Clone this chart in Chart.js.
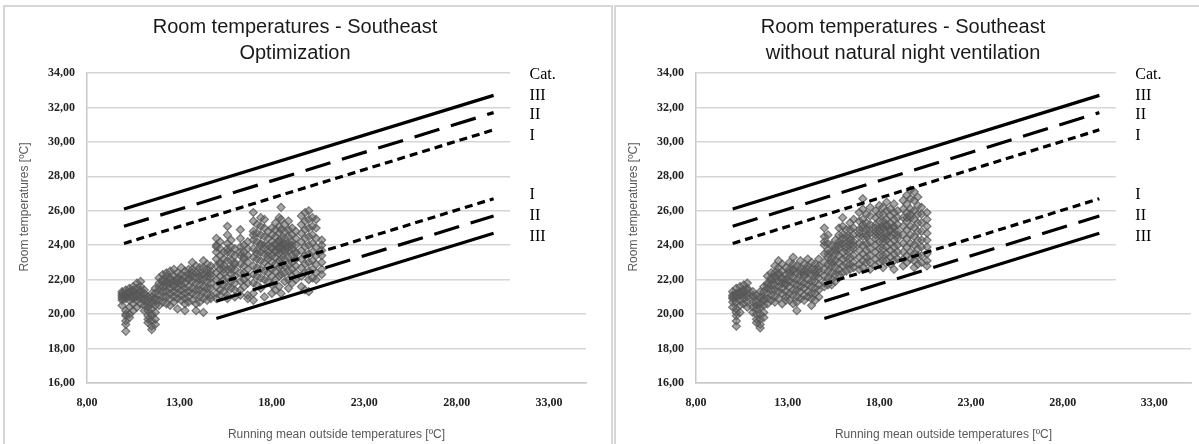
<!DOCTYPE html>
<html>
<head>
<meta charset="utf-8">
<script src="https://cdn.jsdelivr.net/npm/chart.js@4/dist/chart.umd.min.js"></script>
<style>
  html, body { margin: 0; padding: 0; background: #fff; overflow: hidden; width: 1199px; height: 444px; }
  canvas { position: absolute; top: 6px; }
  .frame { position: absolute; top: 5px; height: 470px; border: 2px solid #d6d6d6; box-sizing: border-box; pointer-events: none; }
</style>
</head>
<body>
<div class="frame" style="left:3px;width:610px"></div>
<div class="frame" style="left:614px;width:601px"></div>
<canvas id="chartOpt" width="607" height="438" style="left:4px"></canvas>
<canvas id="chartNoVent" width="598" height="438" style="left:615px"></canvas>
<script>
// axis ticks
const xTicks = [8, 13, 18, 23, 28, 33];
const yTicks = [16, 18, 20, 22, 24, 26, 28, 30, 32, 34];

// category limit lines (EN 15251), two end points each
const upperX = [10, 30];
const lowerX = [15, 30];
const catIIIUpper = [26.1, 32.7];
const catIIUpper = [25.1, 31.7];
const catIUpper = [24.1, 30.7];
const catILower = [21.75, 26.7];
const catIILower = [20.75, 25.7];
const catIIILower = [19.75, 24.7];

// labels right of the plot
const catLabels = ["Cat.", "III", "II", "I", "I", "II", "III"];
const catLabelY = [33.9, 32.7, 31.55, 30.35, 26.9, 25.7, 24.5];

// room temps - optimization (x = running mean, one column per day)
const optDays = [9.9, 10.1, 10.3, 10.5, 10.7, 10.9, 11.1, 11.3, 11.5, 11.7, 11.9, 12.1,
  12.3, 12.5, 12.7, 12.9, 13.1, 13.3, 13.5, 13.7, 13.9, 14.1, 14.3, 14.5, 14.7,
  15.0, 15.2, 15.4, 15.6, 15.8, 16.0, 16.3, 16.5, 16.7, 17.0, 17.2, 17.4, 17.6, 17.8,
  18.0, 18.2, 18.4, 18.5, 18.7, 18.9, 19.1, 19.3, 19.6, 19.8, 20.0, 20.2, 20.4, 20.7];
const optTemps = [
  [21.2, 21.0, 20.8, 21.1, 20.9, 21.3, 20.5],
  [21.4, 21.1, 20.9, 21.0, 20.2, 19.9, 19.6, 19.4, 19.0, 20.0, 21.2],
  [21.5, 21.2, 21.0, 20.8, 20.4, 20.0, 19.8, 21.3],
  [21.6, 21.3, 21.1, 20.9, 21.0, 20.6, 20.2, 21.4],
  [21.8, 21.5, 21.2, 21.0, 20.8, 21.1, 20.4],
  [21.9, 21.6, 21.3, 21.1, 20.9, 20.6, 21.4],
  [21.4, 21.1, 20.8, 20.5, 20.2, 20.9, 21.2],
  [21.0, 20.6, 20.2, 19.9, 19.7, 19.5, 20.4, 20.8],
  [21.2, 20.8, 20.3, 19.9, 19.6, 19.3, 19.1, 20.0, 20.6, 21.0],
  [21.5, 21.2, 20.9, 20.5, 20.1, 19.7, 19.4, 20.8],
  [22.1, 21.8, 21.4, 21.1, 20.8, 20.5, 21.6],
  [22.3, 21.9, 21.6, 21.3, 21.0, 20.7, 22.0],
  [22.2, 21.9, 21.6, 21.3, 21.0, 20.6, 21.8, 22.4],
  [22.5, 22.1, 21.8, 21.5, 21.2, 20.9, 20.5, 22.0],
  [22.6, 22.2, 21.9, 21.6, 21.3, 21.0, 20.7, 21.7],
  [22.4, 22.1, 21.8, 21.5, 21.2, 20.9, 20.3, 22.0],
  [22.7, 22.3, 22.0, 21.7, 21.4, 21.1, 20.8, 21.9],
  [22.5, 22.2, 21.8, 21.5, 21.2, 20.9, 20.6, 20.2],
  [22.6, 22.3, 22.0, 21.6, 21.3, 21.0, 20.7, 22.1],
  [23.0, 22.6, 22.2, 21.9, 21.5, 21.2, 20.8, 22.4],
  [22.8, 22.4, 22.1, 21.8, 21.4, 21.1, 20.6, 20.2],
  [22.7, 22.4, 22.0, 21.7, 21.4, 21.0, 20.7, 22.2],
  [23.1, 22.7, 22.3, 22.0, 21.6, 21.3, 20.9, 20.1],
  [22.9, 22.6, 22.2, 21.9, 21.5, 21.2, 20.8, 22.4],
  [22.8, 22.5, 22.1, 21.8, 21.5, 21.1, 20.9, 22.3],
  [24.4, 24.0, 23.6, 23.2, 22.8, 22.4, 22.0, 21.6, 21.2, 20.9, 23.9],
  [24.2, 23.8, 23.4, 23.0, 22.6, 22.2, 21.8, 21.4, 21.1, 22.9],
  [23.6, 23.2, 22.8, 22.4, 22.0, 21.7, 21.3, 22.6],
  [25.1, 24.6, 24.1, 23.6, 23.1, 22.6, 22.1, 21.6, 21.1, 20.9, 23.8],
  [24.3, 23.9, 23.5, 23.1, 22.7, 22.3, 21.9, 21.5, 22.6],
  [23.8, 23.4, 23.0, 22.6, 22.2, 21.8, 21.4, 21.0, 22.9],
  [24.9, 24.4, 23.9, 23.4, 22.9, 22.4, 21.9, 21.4, 21.1, 23.6],
  [24.0, 23.6, 23.2, 22.8, 22.4, 22.0, 21.6, 23.3],
  [24.2, 23.8, 23.4, 23.0, 22.6, 22.2, 21.8, 21.1, 20.9],
  [25.9, 25.4, 24.8, 24.3, 23.8, 23.3, 22.8, 22.3, 21.8, 21.2, 20.8, 24.6],
  [25.2, 24.7, 24.2, 23.7, 23.2, 22.7, 22.2, 21.7, 23.5],
  [25.6, 25.1, 24.6, 24.1, 23.6, 23.1, 22.6, 22.1, 21.5, 24.0],
  [25.5, 25.0, 24.5, 24.0, 23.5, 23.0, 22.5, 22.0, 21.0, 23.8],
  [24.8, 24.4, 24.0, 23.6, 23.2, 22.8, 22.4, 21.9, 23.4],
  [25.0, 24.6, 24.2, 23.8, 23.4, 23.0, 22.6, 22.2, 21.7, 21.2, 23.9],
  [25.3, 24.9, 24.5, 24.1, 23.7, 23.3, 22.9, 22.5, 22.0, 21.4, 24.0, 23.6],
  [25.6, 25.1, 24.7, 24.3, 23.9, 23.5, 23.1, 22.7, 22.2, 21.6, 24.2, 23.8],
  [26.2, 25.5, 24.9, 24.4, 24.0, 23.6, 23.2, 22.8, 22.3, 21.2, 23.9],
  [25.2, 24.8, 24.4, 24.0, 23.6, 23.2, 22.8, 22.4, 21.9, 24.1, 23.7],
  [25.4, 24.9, 24.5, 24.1, 23.7, 23.3, 22.9, 22.5, 22.0, 21.5, 23.9],
  [25.0, 24.6, 24.2, 23.8, 23.4, 23.0, 22.6, 22.2, 21.8, 24.0],
  [24.8, 24.4, 24.0, 23.6, 23.2, 22.8, 22.4, 22.0, 23.5],
  [25.7, 25.2, 24.7, 24.2, 23.7, 23.2, 22.7, 22.2, 21.6],
  [25.9, 25.4, 24.9, 24.4, 23.9, 23.4, 22.9, 22.4, 21.4],
  [26.0, 25.5, 25.0, 24.5, 24.0, 23.5, 23.0, 22.5, 22.0, 21.3],
  [25.6, 25.1, 24.6, 24.1, 23.6, 23.1, 22.6, 22.1],
  [25.5, 25.0, 24.4, 23.9, 23.4, 22.9, 22.4, 22.0],
  [24.3, 24.0, 23.7, 23.4, 23.0, 22.6, 22.3]
];

// room temps - without natural night ventilation
const noVentDays = [10.0, 10.2, 10.4, 10.6, 10.8, 11.1, 11.3, 11.5, 11.7, 11.9,
  12.1, 12.3, 12.5, 12.7, 12.9, 13.1, 13.3, 13.5, 13.7, 13.9, 14.1, 14.3, 14.5, 14.7,
  15.0, 15.2, 15.4, 15.6, 15.8, 16.0, 16.2, 16.4, 16.6, 16.9, 17.1, 17.3, 17.5,
  17.8, 18.0, 18.2, 18.4, 18.6, 18.8, 19.0, 19.3, 19.5, 19.7, 19.9, 20.1, 20.3, 20.6];
const noVentTemps = [
  [21.3, 21.1, 20.9, 21.0, 20.7, 20.4],
  [21.5, 21.2, 21.0, 20.7, 20.3, 19.9, 19.6, 19.3, 20.1, 21.1],
  [21.6, 21.3, 21.1, 20.8, 20.5, 20.1, 21.2],
  [21.7, 21.4, 21.1, 20.9, 20.6, 21.3],
  [21.8, 21.5, 21.2, 21.0, 20.7, 20.4, 21.4],
  [21.3, 21.0, 20.7, 20.4, 20.1, 21.1],
  [21.1, 20.7, 20.3, 20.0, 19.7, 19.5, 20.5],
  [21.3, 20.9, 20.4, 20.0, 19.7, 19.4, 19.2, 20.6, 21.0],
  [21.6, 21.3, 20.9, 20.5, 20.1, 19.8, 20.8],
  [22.2, 21.8, 21.5, 21.2, 20.9, 20.6, 21.7],
  [22.4, 22.0, 21.7, 21.4, 21.1, 20.8, 22.1],
  [22.8, 22.4, 22.0, 21.7, 21.4, 21.0, 20.7, 22.2],
  [23.1, 22.7, 22.3, 21.9, 21.6, 21.3, 20.9, 22.4],
  [22.9, 22.5, 22.1, 21.8, 21.5, 21.2, 20.6, 22.0],
  [22.7, 22.3, 22.0, 21.7, 21.3, 21.0, 20.8, 21.8],
  [23.0, 22.6, 22.2, 21.9, 21.6, 21.2, 20.8, 22.4],
  [23.3, 22.9, 22.5, 22.1, 21.8, 21.4, 21.1, 20.6, 22.6],
  [22.8, 22.4, 22.0, 21.7, 21.4, 21.0, 20.7, 20.2],
  [23.1, 22.7, 22.3, 21.9, 21.6, 21.3, 20.9, 22.5],
  [22.9, 22.5, 22.2, 21.8, 21.5, 21.1, 20.8, 22.3],
  [23.2, 22.8, 22.4, 22.0, 21.7, 21.3, 21.0, 22.6],
  [23.0, 22.6, 22.3, 21.9, 21.6, 21.2, 20.9, 20.5],
  [22.9, 22.6, 22.2, 21.9, 21.5, 21.2, 20.8, 22.4],
  [23.2, 22.8, 22.4, 22.1, 21.7, 21.4, 21.0, 22.6],
  [25.0, 24.5, 24.0, 23.5, 23.0, 22.6, 22.2, 21.8, 21.6, 24.2],
  [24.6, 24.1, 23.7, 23.3, 22.9, 22.5, 22.1, 21.7, 23.5],
  [24.0, 23.6, 23.2, 22.8, 22.4, 22.0, 21.7, 23.0],
  [24.3, 23.9, 23.5, 23.1, 22.7, 22.3, 21.9, 23.7],
  [25.0, 24.6, 24.2, 23.8, 23.4, 23.0, 22.6, 22.3, 24.0],
  [25.6, 25.1, 24.6, 24.1, 23.6, 23.2, 22.8, 22.4, 24.4],
  [24.9, 24.5, 24.1, 23.7, 23.3, 22.9, 22.5, 23.9],
  [25.3, 24.9, 24.5, 24.1, 23.7, 23.3, 22.9, 22.6, 24.3],
  [25.5, 25.0, 24.6, 24.2, 23.8, 23.4, 23.0, 22.7, 24.0],
  [25.9, 25.4, 24.9, 24.5, 24.1, 23.7, 23.3, 22.9, 22.6, 24.7],
  [26.7, 26.1, 25.5, 25.0, 24.5, 24.0, 23.5, 23.1, 22.7, 25.2],
  [25.8, 25.3, 24.9, 24.5, 24.1, 23.7, 23.3, 23.0, 24.6],
  [26.2, 25.7, 25.2, 24.7, 24.2, 23.8, 23.4, 23.0, 22.6, 24.9],
  [26.0, 25.6, 25.2, 24.8, 24.4, 24.0, 23.6, 23.2, 22.8, 25.0, 24.6],
  [26.3, 25.8, 25.4, 25.0, 24.6, 24.2, 23.8, 23.4, 23.0, 24.8],
  [26.2, 25.8, 25.4, 25.0, 24.6, 24.2, 23.8, 23.4, 23.1, 22.7, 25.1, 24.4],
  [26.5, 26.0, 25.5, 25.1, 24.7, 24.3, 23.9, 23.5, 23.1, 25.2, 24.5],
  [26.1, 25.7, 25.3, 24.9, 24.5, 24.1, 23.7, 23.3, 22.9, 24.8],
  [26.4, 25.9, 25.5, 25.1, 24.7, 24.3, 23.9, 23.5, 23.1, 22.6, 25.0],
  [26.0, 25.6, 25.2, 24.8, 24.4, 24.0, 23.6, 23.2, 24.6],
  [26.6, 26.1, 25.6, 25.1, 24.6, 24.1, 23.6, 23.2, 22.8],
  [26.9, 26.4, 25.9, 25.4, 24.9, 24.4, 23.9, 23.4, 23.0, 25.6],
  [27.2, 26.7, 26.1, 25.6, 25.1, 24.6, 24.1, 23.6, 23.2, 25.8],
  [27.1, 26.6, 26.0, 25.5, 25.0, 24.5, 24.0, 23.5, 23.1, 22.7],
  [26.8, 26.3, 25.8, 25.3, 24.8, 24.3, 23.8, 23.4, 22.9],
  [26.2, 25.8, 25.3, 24.8, 24.3, 23.9, 23.4, 23.0],
  [25.9, 25.5, 25.1, 24.7, 24.3, 23.9, 23.5, 23.1, 22.8]
];

function start() {
  designChart("chartOpt", ["Room temperatures - Southeast", "Optimization"], optDays, optTemps, 83, 25);
  designChart("chartNoVent", ["Room temperatures - Southeast", "without natural night ventilation"], noVentDays, noVentTemps, 81, 22);
}

function commaFmt(v) {
  return Number(v).toFixed(2).replace(".", ",");
}

function toPoints(xs, ys) {
  return xs.map((x, i) => ({ x: x, y: ys[i] }));
}

function limitLine(xs, ys, dash) {
  return {
    type: "line",
    data: toPoints(xs, ys),
    borderColor: "#000",
    borderWidth: 3.2,
    borderDash: dash,
    borderCapStyle: "butt",
    pointRadius: 0,
    fill: false,
    order: 1,
  };
}

// white box behind the category labels (hides the grid there)
const labelBox = {
  id: "labelBox",
  beforeDatasetsDraw(chart) {
    const { ctx, chartArea, scales } = chart;
    const x0 = scales.x.getPixelForValue(30.9);
    const y1 = scales.y.getPixelForValue(21);
    ctx.save();
    ctx.fillStyle = "#fff";
    ctx.fillRect(x0, chartArea.top - 3, chartArea.right - x0 + 8, y1 - chartArea.top + 3);
    ctx.restore();
  },
  afterDraw(chart) {
    const { ctx, chartArea, scales } = chart;
    ctx.save();
    // category text
    ctx.font = "16px 'Liberation Serif'";
    ctx.fillStyle = "#000";
    ctx.textAlign = "left";
    ctx.textBaseline = "middle";
    const lx = scales.x.getPixelForValue(30) + 36;
    catLabels.forEach((t, i) => {
      ctx.fillText(t, lx, scales.y.getPixelForValue(catLabelY[i]));
    });
    // y axis title
    ctx.translate(chartArea.left - 62, chartArea.top + 134);
    ctx.rotate(-Math.PI / 2);
    ctx.font = "12px 'Liberation Sans'";
    ctx.fillStyle = "#595959";
    ctx.textAlign = "center";
    ctx.fillText("Room temperatures [ºC]", 0, 0);
    ctx.restore();
  },
};

function designChart(id, title, days, temps, axisWidth, padRight) {
  const pts = [];
  days.forEach((d, i) => {
    temps[i].forEach((t) => pts.push({ x: d, y: t }));
  });
  const ctx = document.getElementById(id).getContext("2d");
  new Chart(ctx, {
    type: "scatter",
    data: {
      datasets: [
        limitLine(upperX, catIIIUpper, []),
        limitLine(upperX, catIIUpper, [26, 12]),
        limitLine(upperX, catIUpper, [8, 5]),
        limitLine(lowerX, catILower, [8, 5]),
        limitLine(lowerX, catIILower, [26, 12]),
        limitLine(lowerX, catIIILower, []),
        {
          label: "Room temperatures",
          data: pts,
          pointStyle: "rectRot",
          pointRadius: 4,
          borderWidth: 1.2,
          borderColor: "rgba(85,85,85,0.75)",
          backgroundColor: "rgba(95,95,95,0.55)",
          order: 2,
        },
      ],
    },
    options: {
      responsive: false,
      animation: false,
      devicePixelRatio: 1,
      layout: { padding: { left: 0, right: padRight, top: 0, bottom: 0 } },
      scales: {
        x: {
          type: "linear",
          min: 8,
          max: 35,
          afterBuildTicks: (s) => { s.ticks = xTicks.map((v) => ({ value: v })); },
          afterFit: (s) => { s.height = 61; },
          grid: { display: false, drawTicks: false },
          border: { display: true, color: "#c8c8c8", width: 1.5 },
          ticks: {
            callback: commaFmt,
            padding: 13,
            color: "#222",
            font: { family: "'Liberation Serif'", size: 12, weight: "bold" },
          },
          title: {
            display: true,
            text: "Running mean outside temperatures [ºC]",
            color: "#595959",
            font: { family: "'Liberation Sans'", size: 12 },
            padding: { top: 17, bottom: 2 },
          },
        },
        y: {
          min: 16,
          max: 34,
          afterBuildTicks: (s) => { s.ticks = yTicks.map((v) => ({ value: v })); },
          afterFit: (s) => { s.width = axisWidth; },
          grid: { color: "#d6d6d6", lineWidth: 1.5, drawTicks: false },
          border: { display: true, color: "#c8c8c8", width: 1.5 },
          ticks: {
            callback: commaFmt,
            padding: 12,
            color: "#222",
            font: { family: "'Liberation Serif'", size: 12, weight: "bold" },
          },
        },
      },
      plugins: {
        legend: { display: false },
        tooltip: { enabled: false },
        title: {
          display: true,
          text: title,
          color: "#1a1a1a",
          font: { family: "'Liberation Sans'", size: 20, weight: "normal", lineHeight: 1.3 },
          padding: { top: 8, bottom: 7 },
        },
      },
    },
    plugins: [labelBox],
  });
}

start();
</script>
</body>
</html>
